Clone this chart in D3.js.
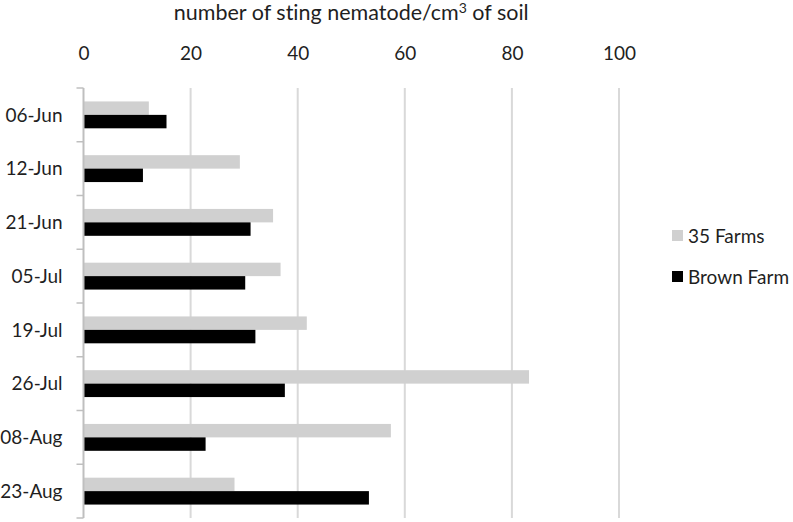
<!DOCTYPE html>
<html lang="en">
<head>
    <meta charset="UTF-8">
    <title>Sting nematode</title>
    <style>
        body { margin: 0; background: #fff; }
        text { font-family: Lato, "Open Sans", sans-serif; fill: #1f1f1f; font-variant-ligatures: none; }
    </style>
</head>
<body>
<svg></svg>
<script src="https://cdnjs.cloudflare.com/ajax/libs/d3/7.8.5/d3.min.js"></script>
<script>
    var categories = ["06-Jun", "12-Jun", "21-Jun", "05-Jul", "19-Jul", "26-Jul", "08-Aug", "23-Aug"];
    var farms35 = [12.2, 29.2, 35.4, 36.8, 41.7, 83.2, 57.4, 28.2];
    var brownFarm = [15.5, 11.1, 31.2, 30.2, 32.1, 37.6, 22.8, 53.3];
    var seriesNames = ["35 Farms", "Brown Farm"];
    var seriesColors = ["#d0d0d0", "#000000"];
    var xTicks = [0, 20, 40, 60, 80, 100];

    var width = 793;
    var height = 522;
    var margin = {top: 88, right: 174, bottom: 4, left: 83.5};

    var svg = d3.select("svg")
        .attr("width", width)
        .attr("height", height);

    var xScale = d3.scaleLinear().domain([0, 100]).range([margin.left, width - margin.right]);
    var yScale = d3.scaleBand().domain(categories)
        .range([margin.top, height - margin.bottom])
        .paddingInner(0.5).paddingOuter(0.25);
    var ySub = d3.scaleBand().domain(seriesNames).range([0, yScale.bandwidth()]);

    var rows = categories.map(function (c, i) {
        return {cat: c, values: [farms35[i], brownFarm[i]]};
    });

    // gridlines
    svg.append("g").selectAll("line")
        .data(xTicks.slice(1))
        .enter().append("line")
        .attr("x1", function (d) { return xScale(d); })
        .attr("x2", function (d) { return xScale(d); })
        .attr("y1", margin.top)
        .attr("y2", height - margin.bottom)
        .style("stroke", "#d9d9d9")
        .style("stroke-width", 2);

    // top tick labels
    var xAxis = d3.axisTop(xScale).tickValues(xTicks).tickSize(0).tickPadding(0);
    var gx = svg.append("g")
        .attr("transform", "translate(0,60)")
        .call(xAxis);
    gx.select(".domain").remove();
    gx.selectAll("text")
        .style("font-size", "19px")
        .style("font-family", "Lato, sans-serif")
        .attr("fill", "#1f1f1f");

    // bars
    var groups = svg.append("g").selectAll("g")
        .data(rows)
        .enter().append("g")
        .attr("transform", function (d) { return "translate(0," + yScale(d.cat) + ")"; });

    groups.selectAll("rect")
        .data(function (d) { return d.values; })
        .enter().append("rect")
        .attr("x", xScale(0))
        .attr("y", function (d, i) { return ySub(seriesNames[i]); })
        .attr("width", function (d) { return xScale(d) - xScale(0); })
        .attr("height", ySub.bandwidth())
        .style("fill", function (d, i) { return seriesColors[i]; });

    // category axis
    var step = yScale.step();
    var boundaries = d3.range(categories.length + 1).map(function (i) {
        return margin.top + i * step;
    });
    svg.append("line")
        .attr("x1", xScale(0)).attr("x2", xScale(0))
        .attr("y1", margin.top).attr("y2", height - margin.bottom)
        .style("stroke", "#bfbfbf")
        .style("stroke-width", 2);
    svg.append("g").selectAll("line")
        .data(boundaries)
        .enter().append("line")
        .attr("x1", xScale(0) - 7).attr("x2", xScale(0))
        .attr("y1", function (d) { return d; })
        .attr("y2", function (d) { return d; })
        .style("stroke", "#bfbfbf")
        .style("stroke-width", 1.5);

    svg.append("g").selectAll("text")
        .data(categories)
        .enter().append("text")
        .attr("x", xScale(0) - 21)
        .attr("y", function (d) { return yScale(d) + yScale.bandwidth() / 2; })
        .attr("dy", "0.35em")
        .style("text-anchor", "end")
        .style("font-size", "19px")
        .text(function (d) { return d; });

    // axis title
    var title = svg.append("text")
        .attr("x", (xScale(0) + xScale(100)) / 2)
        .attr("y", 20)
        .style("text-anchor", "middle")
        .style("font-size", "21.5px");
    title.append("tspan").text("number of sting nematode/cm");
    title.append("tspan").attr("dy", -7).style("font-size", "14px").text("3");
    title.append("tspan").attr("dy", 7).text(" of soil");

    // legend
    var legend = svg.append("g").selectAll("g")
        .data(seriesNames)
        .enter().append("g")
        .attr("transform", function (d, i) { return "translate(672," + (236 + i * 41) + ")"; });
    legend.append("rect")
        .attr("x", 0).attr("y", -6)
        .attr("width", 11).attr("height", 11)
        .style("fill", function (d, i) { return seriesColors[i]; });
    legend.append("text")
        .attr("x", 16)
        .attr("dy", "0.35em")
        .style("font-size", "19px")
        .text(function (d) { return d; });
</script>
</body>
</html>
